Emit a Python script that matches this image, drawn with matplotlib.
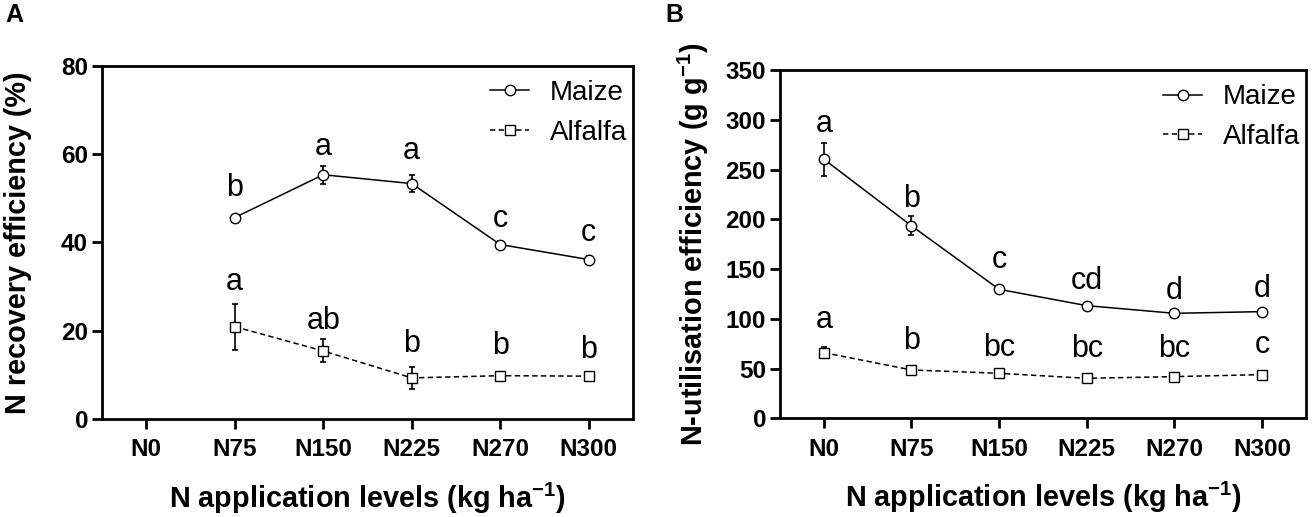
import numpy as np
import matplotlib
matplotlib.use("Agg")
import matplotlib.pyplot as plt

plt.rcParams['font.family'] = ['Liberation Sans', 'DejaVu Sans']
plt.rcParams['mathtext.fontset'] = 'custom'
plt.rcParams['mathtext.rm'] = 'Liberation Sans:bold'
plt.rcParams['mathtext.default'] = 'rm'

# --- data ---
levels = ['N0', 'N75', 'N150', 'N225', 'N270', 'N300']

# panel A: N recovery efficiency (%), no value at N0
a_maize = [np.nan, 45.6, 55.3, 53.3, 39.5, 36.1]
a_maize_err = [np.nan, 0.6, 2.0, 2.0, 0.7, 0.7]
a_alfalfa = [np.nan, 20.9, 15.4, 9.3, 9.8, 9.7]
a_alfalfa_err = [np.nan, 5.2, 2.6, 2.4, 0.7, 0.7]
a_maize_sig = ['', 'b', 'a', 'a', 'c', 'c']
a_maize_sig_y = [np.nan, 50.6, 59.7, 58.8, 43.4, 40.2]
a_alfalfa_sig = ['', 'a', 'ab', 'b', 'b', 'b']
a_alfalfa_sig_y = [np.nan, 29.2, 20.3, 15.1, 14.7, 13.7]

# panel B: N-utilisation efficiency (g g-1)
b_maize = [260.4, 193.4, 129.6, 113.2, 105.5, 107.2]
b_maize_err = [16.5, 9.5, 3.0, 3.0, 2.0, 2.0]
b_alfalfa = [66.0, 48.6, 45.2, 40.2, 41.9, 43.9]
b_alfalfa_err = [5.5, 3.0, 2.0, 2.0, 2.0, 2.0]
b_maize_sig = ['a', 'b', 'c', 'cd', 'd', 'd']
b_maize_sig_y = [288.0, 212.0, 151.2, 129.9, 119.8, 121.5]
b_alfalfa_sig = ['a', 'b', 'bc', 'bc', 'bc', 'c']
b_alfalfa_sig_y = [90.5, 69.5, 62.9, 61.2, 61.2, 65.9]

x = np.arange(len(levels))


def draw_panel(ax, maize, maize_err, alfalfa, alfalfa_err,
               m_sig, m_sig_y, al_sig, al_sig_y, ylim, yticks, ylabel,
               leg_anchor):
    ax.errorbar(x, maize, yerr=maize_err, fmt='none', ecolor='k',
                elinewidth=1.2, capsize=2, capthick=1.2, zorder=2)
    ax.errorbar(x, alfalfa, yerr=alfalfa_err, fmt='none', ecolor='k',
                elinewidth=1.2, capsize=2, capthick=1.2, zorder=2)
    ax.plot(x, maize, '-', color='k', lw=1.1, marker='o', ms=7.5,
            mfc='white', mec='k', mew=1.0, label='Maize', zorder=3)
    ax.plot(x, alfalfa, linestyle=(0, (3.5, 2.2)), color='k', lw=1.1,
            marker='s', ms=6.5, mfc='white', mec='k', mew=1.0,
            label='Alfalfa', zorder=3)

    for xi, s, yy in zip(x, m_sig, m_sig_y):
        if s:
            ax.text(xi, yy, s, ha='center', va='baseline', fontsize=22)
    for xi, s, yy in zip(x, al_sig, al_sig_y):
        if s:
            ax.text(xi, yy, s, ha='center', va='baseline', fontsize=22)

    ax.set_xlim(-0.5, 5.5)
    ax.set_ylim(*ylim)
    ax.set_xticks(x)
    ax.set_xticklabels(levels)
    ax.set_yticks(yticks)
    for sp in ax.spines.values():
        sp.set_linewidth(2.0)
    ax.tick_params(direction='out', length=7, width=2.0, labelsize=17.5)
    ax.tick_params(axis='x', pad=7)
    ax.tick_params(axis='y', pad=3)
    for lab in ax.get_xticklabels() + ax.get_yticklabels():
        lab.set_fontweight('bold')

    ax.set_xlabel('N application levels (kg ha$^{-1}$)', fontsize=20.8,
                  fontweight='bold', labelpad=14)
    ax.set_ylabel(ylabel, fontsize=20.8, fontweight='bold')
    ax.yaxis.set_label_coords(-0.132, 0.5)

    ax.legend(loc='upper right', frameon=False, fontsize=20,
              handlelength=1.4, handletextpad=0.75, labelspacing=0.5,
              borderaxespad=0.0, borderpad=0.2, bbox_to_anchor=leg_anchor)


fig = plt.figure(figsize=(13.14, 5.17), dpi=100)
ax_a = fig.add_axes([0.0776, 0.1896, 0.4041, 0.6834])
ax_b = fig.add_axes([0.5936, 0.1909, 0.4003, 0.6737])

draw_panel(ax_a, a_maize, a_maize_err, a_alfalfa, a_alfalfa_err,
           a_maize_sig, a_maize_sig_y, a_alfalfa_sig, a_alfalfa_sig_y,
           (0, 80), [0, 20, 40, 60, 80], 'N recovery efficiency (%)',
           (1.0, 0.975))
draw_panel(ax_b, b_maize, b_maize_err, b_alfalfa, b_alfalfa_err,
           b_maize_sig, b_maize_sig_y, b_alfalfa_sig, b_alfalfa_sig_y,
           (0, 350), [0, 50, 100, 150, 200, 250, 300, 350],
           'N-utilisation efficiency (g g$^{-1}$)', (1.0, 0.975))

fig.text(0.004, 0.995, 'A', fontsize=18, fontweight='bold', va='top', ha='left')
fig.text(0.506, 0.995, 'B', fontsize=18, fontweight='bold', va='top', ha='left')

fig.savefig('out.png', dpi=100)
